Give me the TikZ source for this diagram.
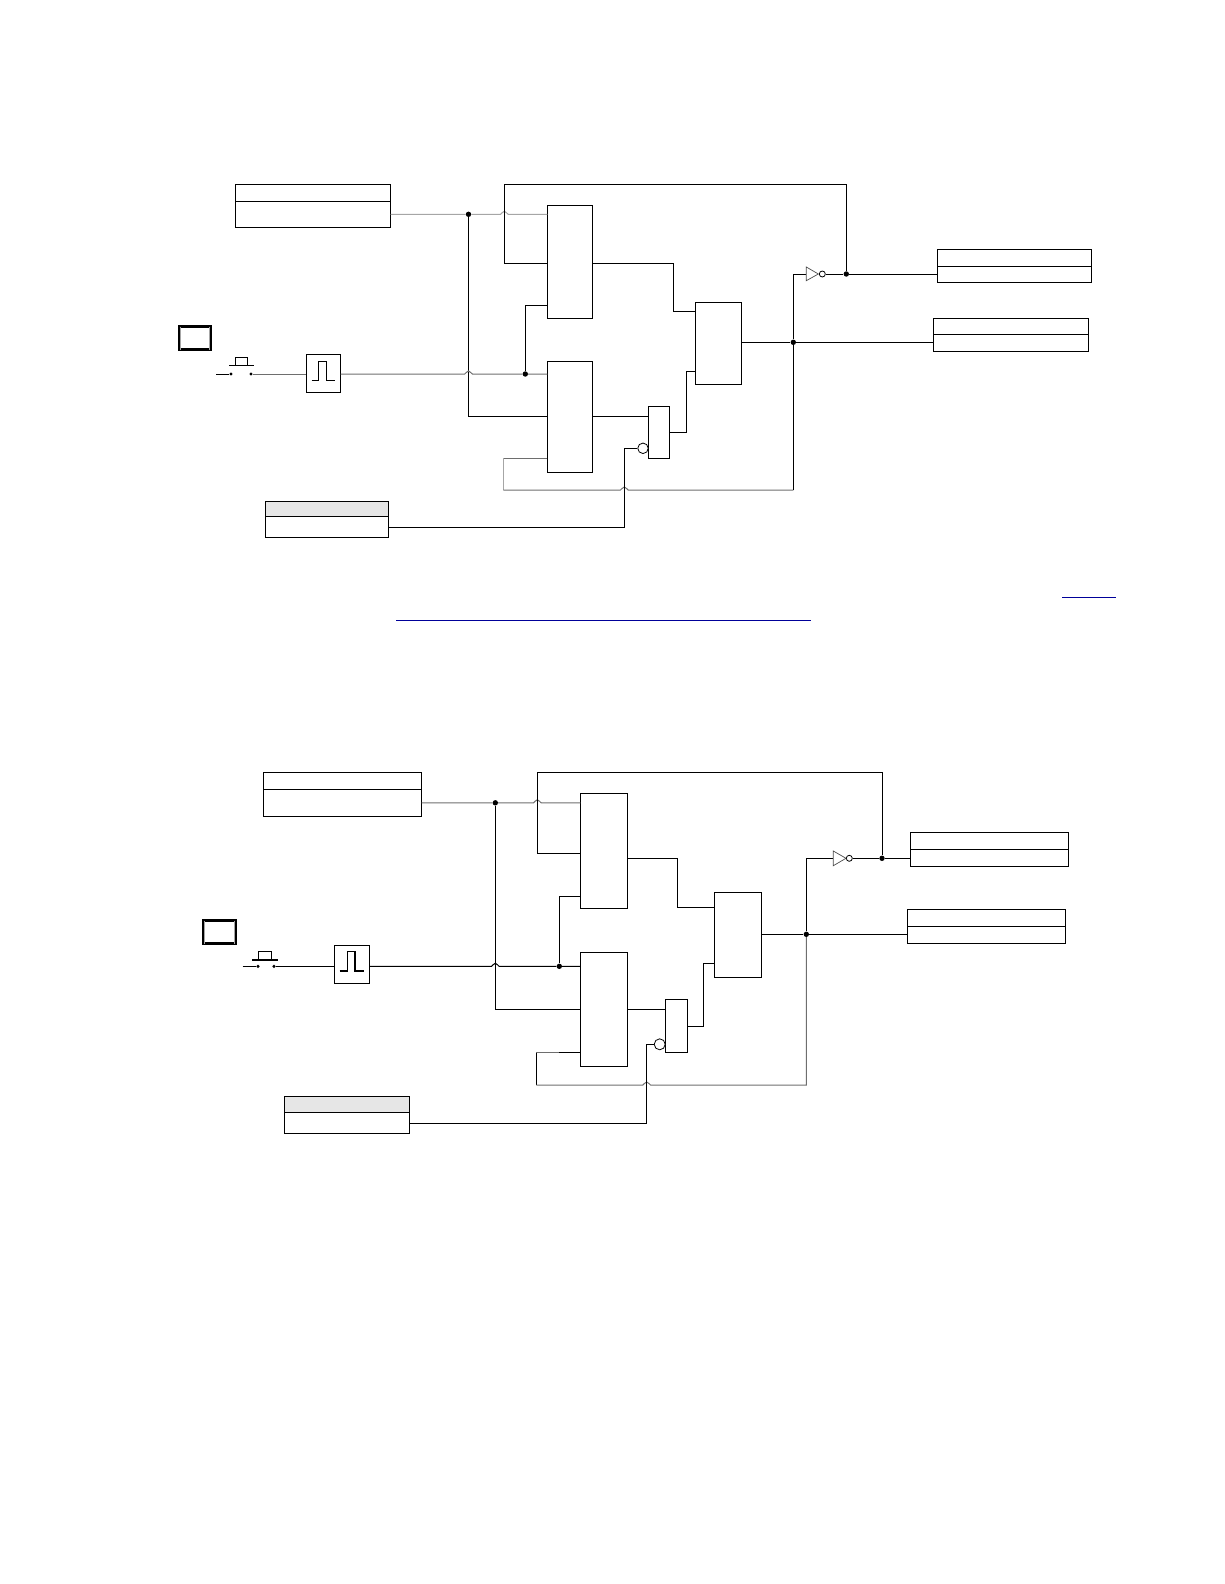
\documentclass[tikz,border=0pt]{standalone}
\usepackage{xcolor}
\usetikzlibrary{calc}
\definecolor{wirelight}{HTML}{a6a6a6}
\definecolor{wiregray}{HTML}{6e6e6e}
\definecolor{headgray}{HTML}{e6e6e6}
\definecolor{linkblue}{HTML}{000099}
\tikzset{
	cell/.style={draw,fill=white,line width=1pt,inner sep=0pt,outer sep=0pt},
	headcell/.style={cell,fill=headgray},
	wire/.style={line width=1pt},
	lightwire/.style={line width=1pt,wirelight},
	graywire/.style={line width=1pt,wiregray},
	junction/.style={circle,fill=black,inner sep=0pt,minimum size=5.4pt},
	contact/.style={circle,fill=black,inner sep=0pt,minimum size=3.4pt},
	bubble/.style={circle,draw,fill=white,inner sep=0pt,line width=.8pt},
	gate/.style={line width=.7pt,black!70,line join=miter},
	screen/.style={draw,fill=white,line width=3pt,inner sep=0pt,outer sep=0pt},
	linkline/.style={line width=1pt,linkblue}
}
\begin{document}
\begin{tikzpicture}[x=1pt,y=-1pt]
		\useasboundingbox (0,0) rectangle (1224,1584);
		\newcommand{\hop}[1]{-- ($(#1)+(-3.8,0)$) .. controls ($(#1)+(-2.4,0)$) and ($(#1)+(-2.4,-3)$) .. ($(#1)+(0,-3)$) .. controls ($(#1)+(2.4,-3)$) and ($(#1)+(2.4,0)$) .. ($(#1)+(3.8,0)$)}
		
		% upper circuit
		\node[cell,minimum width=155.4pt,minimum height=17pt] (tAhead) at (313,192.8) {};
		\node[cell,minimum width=155.4pt,minimum height=26pt] (tAbody) at (313,214.3) {};
		\node[cell,minimum width=154pt,minimum height=17pt] (tDhead) at (1014.3,257.8) {};
		\node[cell,minimum width=154pt,minimum height=16pt] (tDbody) at (1014.3,274.3) {};
		\node[cell,minimum width=155pt,minimum height=16pt] (tEhead) at (1010.8,326.3) {};
		\node[cell,minimum width=155pt,minimum height=17pt] (tEbody) at (1010.8,342.8) {};
		\node[headcell,minimum width=123pt,minimum height=15pt] (tFhead) at (326.8,508.8) {};
		\node[cell,minimum width=123pt,minimum height=21pt] (tFbody) at (326.8,526.8) {};
		\node[cell,minimum width=45.4pt,minimum height=113.3pt] (tBa) at (570,261.65) {};
		\node[cell,minimum width=45.4pt,minimum height=111pt] (tBb) at (570,416.8) {};
		\node[cell,minimum width=46.4pt,minimum height=82pt] (tBc) at (718.5,343.3) {};
		\node[cell,minimum width=21.4pt,minimum height=52.3pt] (tBd) at (659,432.15) {};
		\node[cell,minimum width=34.4pt,minimum height=38pt] (tPulse) at (323.5,373.3) {};
		\node[screen,minimum width=30.4pt,minimum height=22.7pt] (tScreen) at (195,337.85) {};
		
		\coordinate (tFb) at (504.3,184.3);
		\coordinate (tCa) at (504.3,214.3);
		\coordinate (tCb) at (468.5,374);
		\coordinate (tCc) at (624.3,490);
		\coordinate (tLa) at (503.3,490);
		\coordinate (tLb) at (793.3,490);
		\coordinate (tLc) at (503.3,458.3);
		\coordinate (tBaA) at (547.3,263.3);
		\coordinate (tBaB) at (547.3,305.3);
		\coordinate (tBaC) at (592.7,263.3);
		\coordinate (tBbC) at (592.7,416.3);
		\coordinate (tBbD) at (547.3,458.3);
		\coordinate (tBdA) at (648.3,416.3);
		\coordinate (tBdC) at (669.7,432.3);
		\coordinate (tBcA) at (695.3,311.3);
		\coordinate (tBcB) at (695.3,371.3);
		\coordinate (tBcC) at (741.7,342.3);
		\coordinate (tKa) at (673.3,311.3);
		\coordinate (tKb) at (686.7,371.3);
		\coordinate (tKc) at (624.3,448.3);
		\coordinate (tFo) at (388.3,527.3);
		\coordinate (tInv) at (806.3,274);
		\coordinate (tSwStart) at (216,374);
		
		\node[junction] (tJa) at (468.5,214.3) {};
		\node[junction] (tJb) at (525.3,374) {};
		\node[junction] (tJc) at (793.3,342.3) {};
		\node[junction] (tJd) at (846.3,274) {};
		\node[contact] (tSwA) at (231,374) {};
		\node[contact] (tSwB) at (251,374) {};
		\node[bubble,minimum size=6pt] (tBub) at (822.3,274) {};
		\node[bubble,minimum size=10.5pt] (tNot) at (643,448.3) {};
		
		\draw[lightwire] (tAbody.east) -- (tJa) \hop{tCa} -- (tBa.west |- tJa);
		\draw[wire] (tJa) |- (tBb.west);
		\draw[graywire] (tSwB) -- (tPulse.west |- tSwB);
		\draw[graywire] (tPulse.east |- tJb) \hop{tCb} -- (tJb) -- (tBb.west |- tJb);
		\draw[wire] (tSwStart) -- (tSwA);
		\draw[wire] (tJb) |- (tBaB);
		\draw[wire] (tJd) |- (tFb) -- (tCa) |- (tBaA);
		\draw[wire] (tBaC) -| (tKa) -- (tBcA);
		\draw[wire] (tBbC) -- (tBdA);
		\draw[wire] (tBdC) -| (tKb) -- (tBcB);
		\draw[wire] (tBcC) -- (tJc) -- (tEbody.west |- tJc);
		\draw[wire] (tJc) |- (tInv);
		\draw[wire] (tBub) -- (tJd) -- (tDbody.west |- tJd);
		\draw[graywire] (tBbD) -- (tLc);
		\draw[lightwire] (tLc) -- (tLa);
		\draw[graywire] (tLa) \hop{tCc} -- (tLb);
		\draw[wire] (tLb) -- (tJc);
		\draw[wire] (tFo) -| (tKc) -- (tNot);
		
		\draw[gate] (tInv) ++(0,-7) -- ++(12,7) -- ++(-12,6.7) -- cycle;
		\draw[wire] (229.3,365.3) -- (253.7,365.3);
		\draw[wire] (235.3,365.3) -- (235.3,357.3) -- (247.7,357.3) -- (247.7,365.3);
		\draw[wire] (311.7,380.3) -- (318.3,380.3) -- (318.3,361.7) -- (326,361.7) -- (326,380.3) -- (335,380.3);
		\draw[wirelight,line width=1pt] (180.1,326.5) -- (180.1,349.5) (209.9,326.5) -- (209.9,349.5);
		
		\draw[linkline] (1062,597.3) -- (1116,597.3);
		\draw[linkline] (396,620.3) -- (810.7,620.3);
		
		% lower circuit
		\node[cell,minimum width=158.4pt,minimum height=17pt] (uAhead) at (342.5,780.8) {};
		\node[cell,minimum width=158.4pt,minimum height=27pt] (uAbody) at (342.5,802.8) {};
		\node[cell,minimum width=158pt,minimum height=17pt] (uDhead) at (989.3,840.8) {};
		\node[cell,minimum width=158pt,minimum height=17pt] (uDbody) at (989.3,857.8) {};
		\node[cell,minimum width=158.4pt,minimum height=17pt] (uEhead) at (986.5,917.8) {};
		\node[cell,minimum width=158.4pt,minimum height=17pt] (uEbody) at (986.5,934.8) {};
		\node[headcell,minimum width=125pt,minimum height=16pt] (uFhead) at (346.8,1104.3) {};
		\node[cell,minimum width=125pt,minimum height=21pt] (uFbody) at (346.8,1122.8) {};
		\node[cell,minimum width=47.4pt,minimum height=115pt] (uBa) at (604,850.8) {};
		\node[cell,minimum width=47.4pt,minimum height=114pt] (uBb) at (604,1009.3) {};
		\node[cell,minimum width=47pt,minimum height=85pt] (uBc) at (737.8,934.8) {};
		\node[cell,minimum width=22.4pt,minimum height=53pt] (uBd) at (676.5,1025.8) {};
		\node[cell,minimum width=35.4pt,minimum height=38pt] (uPulse) at (352,964.3) {};
		\node[screen,minimum width=31.4pt,minimum height=23.3pt] (uScreen) at (219.5,932.15) {};
		
		\coordinate (uFb) at (537.3,772.3);
		\coordinate (uCa) at (537.3,802.8);
		\coordinate (uCb) at (495.3,966.3);
		\coordinate (uCc) at (646.7,1085);
		\coordinate (uLa) at (536.3,1085);
		\coordinate (uLb) at (806.3,1085);
		\coordinate (uLc) at (536.3,1052.7);
		\coordinate (uBaA) at (580.3,853.3);
		\coordinate (uBaB) at (580.3,896.3);
		\coordinate (uBaC) at (627.7,858.3);
		\coordinate (uBbC) at (627.7,1009.3);
		\coordinate (uBbD) at (580.3,1052.7);
		\coordinate (uBbE) at (559,1052.7);
		\coordinate (uBdA) at (665.3,1009.3);
		\coordinate (uBdC) at (687.7,1026.3);
		\coordinate (uBcA) at (714.3,907);
		\coordinate (uBcB) at (714.3,963);
		\coordinate (uBcC) at (761.3,934.3);
		\coordinate (uKa) at (677.3,907);
		\coordinate (uKb) at (703.5,963);
		\coordinate (uKc) at (646.7,1044.3);
		\coordinate (uFo) at (409.3,1123.3);
		\coordinate (uInv) at (833.3,858.3);
		\coordinate (uSwStart) at (242.7,966.3);
		
		\node[junction] (uJa) at (495.3,802.8) {};
		\node[junction] (uJb) at (559.3,966.3) {};
		\node[junction] (uJc) at (806.3,934.3) {};
		\node[junction] (uJd) at (882,858.3) {};
		\node[contact] (uSwA) at (258,966.3) {};
		\node[contact] (uSwB) at (274,966.3) {};
		\node[bubble,minimum size=6pt] (uBub) at (849.3,858.3) {};
		\node[bubble,minimum size=11pt] (uNot) at (659.7,1044.3) {};
		
		\draw[graywire] (uAbody.east) -- (uJa) \hop{uCa} -- (uBa.west |- uJa);
		\draw[wire] (uJa) |- (uBb.west);
		\draw[wire] (uSwB) -- (uPulse.west |- uSwB);
		\draw[wire] (uPulse.east |- uJb) \hop{uCb} -- (uJb) -- (uBb.west |- uJb);
		\draw[wire] (uSwStart) -- (uSwA);
		\draw[wire] (uJb) |- (uBaB);
		\draw[wire] (uJd) |- (uFb) -- (uCa) |- (uBaA);
		\draw[wire] (uBaC) -| (uKa) -- (uBcA);
		\draw[wire] (uBbC) -- (uBdA);
		\draw[wire] (uBdC) -| (uKb) -- (uBcB);
		\draw[wire] (uBcC) -- (uJc) -- (uEbody.west |- uJc);
		\draw[wire] (uJc) |- (uInv);
		\draw[wire] (uBub) -- (uJd) -- (uDbody.west |- uJd);
		\draw[graywire] (uBbE) -- (uLc);
		\draw[wire] (uLc) -- (uLa);
		\draw[graywire] (uLa) \hop{uCc} -- (uLb) -- (uJc);
		\draw[wire] (uBbE) -- (uBbD);
		\draw[wire] (uFo) -| (uKc) -- (uNot);
		
		\draw[gate] (uInv) ++(0,-7.3) -- ++(12.7,7.3) -- ++(-12.7,7.4) -- cycle;
		\draw[wire,line width=1.4pt] (252.3,960) -- (278.3,960);
		\draw[wire] (258.3,960) -- (258.3,951.7) -- (271.7,951.7) -- (271.7,960);
		\draw[wire,line width=1.4pt] (339.7,971) -- (347.3,971) -- (347.3,951.7) -- (355,951.7) -- (355,971) -- (363.7,971);
		\draw[wirelight,line width=1pt] (204.1,920.5) -- (204.1,944) (234.9,920.5) -- (234.9,944);
	\end{tikzpicture}
\end{document}
